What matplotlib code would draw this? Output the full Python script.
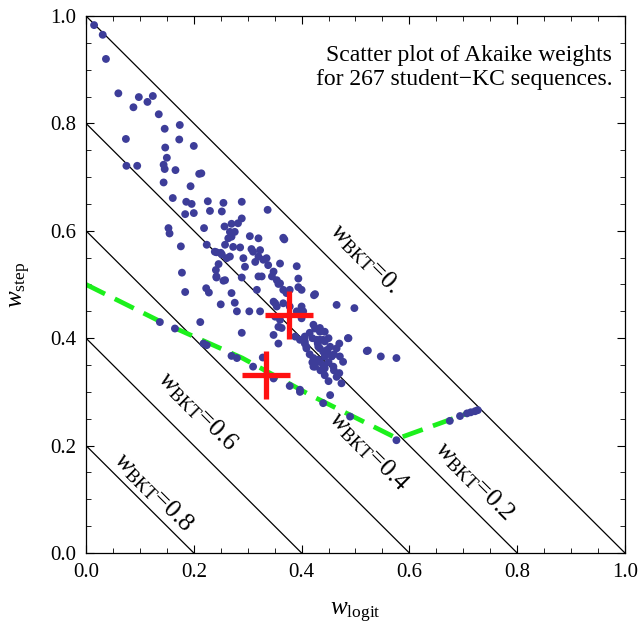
import matplotlib
matplotlib.use('Agg')
import matplotlib.pyplot as plt
from matplotlib.ticker import MultipleLocator, FormatStrFormatter
import numpy as np

plt.rcParams['font.family'] = ['Liberation Serif', 'DejaVu Serif']
plt.rcParams['mathtext.fontset'] = 'custom'
plt.rcParams['mathtext.rm'] = 'Liberation Serif'
plt.rcParams['mathtext.it'] = 'Liberation Serif:italic'

# Akaike weights per student-KC sequence (w_logit, w_step)
w_logit = [
    0.015, 0.031, 0.037, 0.060, 0.088, 0.098, 0.114, 0.124, 0.135, 0.074,
    0.146, 0.174, 0.173, 0.147, 0.200, 0.150, 0.075, 0.095, 0.144, 0.146,
    0.166, 0.210, 0.214, 0.144, 0.194, 0.161, 0.186, 0.196, 0.226, 0.255,
    0.289, 0.337, 0.184, 0.200, 0.230, 0.252, 0.153, 0.155, 0.219, 0.257,
    0.270, 0.282, 0.289, 0.276, 0.270, 0.267, 0.264, 0.258, 0.273, 0.286,
    0.239, 0.252, 0.261, 0.267, 0.304, 0.320, 0.366, 0.368, 0.176, 0.224,
    0.242, 0.250, 0.246, 0.241, 0.178, 0.242, 0.255, 0.184, 0.223, 0.228,
    0.250, 0.212, 0.310, 0.323, 0.314, 0.329, 0.295, 0.338, 0.348, 0.360,
    0.391, 0.258, 0.289, 0.320, 0.326, 0.345, 0.354, 0.360, 0.394, 0.317,
    0.366, 0.372, 0.400, 0.270, 0.425, 0.276, 0.348, 0.354, 0.280, 0.303,
    0.323, 0.351, 0.360, 0.357, 0.391, 0.400, 0.348, 0.357, 0.388, 0.397,
    0.406, 0.409, 0.289, 0.328, 0.465, 0.498, 0.486, 0.523, 0.547, 0.576,
    0.307, 0.320, 0.292, 0.335, 0.242, 0.357, 0.378, 0.394, 0.423, 0.351,
    0.366, 0.378, 0.400, 0.403, 0.363, 0.422, 0.434, 0.425, 0.434, 0.443,
    0.487, 0.406, 0.406, 0.434, 0.443, 0.453, 0.465, 0.409, 0.434, 0.440,
    0.521, 0.422, 0.443, 0.456, 0.471, 0.477, 0.425, 0.443, 0.459, 0.443,
    0.465, 0.474, 0.397, 0.453, 0.415, 0.420, 0.430, 0.450, 0.440, 0.450,
    0.460, 0.430, 0.415, 0.420, 0.450, 0.460, 0.470, 0.435, 0.448, 0.470,
    0.428, 0.440, 0.431, 0.447, 0.422, 0.434, 0.440, 0.422, 0.137, 0.165,
    0.218, 0.224, 0.270, 0.280, 0.310, 0.335, 0.348, 0.378, 0.397, 0.440,
    0.490, 0.576, 0.675, 0.694, 0.707, 0.714, 0.722, 0.727,
]
w_step = [
    0.983, 0.965, 0.920, 0.856, 0.830, 0.849, 0.840, 0.851, 0.817, 0.771,
    0.790, 0.797, 0.770, 0.755, 0.758, 0.736, 0.721, 0.721, 0.723, 0.715,
    0.713, 0.706, 0.707, 0.690, 0.683, 0.661, 0.654, 0.650, 0.655, 0.652,
    0.654, 0.639, 0.631, 0.633, 0.637, 0.636, 0.605, 0.595, 0.605, 0.608,
    0.613, 0.614, 0.623, 0.598, 0.589, 0.598, 0.586, 0.574, 0.570, 0.569,
    0.561, 0.556, 0.549, 0.552, 0.590, 0.586, 0.587, 0.584, 0.571, 0.574,
    0.560, 0.559, 0.538, 0.527, 0.522, 0.513, 0.507, 0.486, 0.493, 0.485,
    0.463, 0.430, 0.561, 0.564, 0.542, 0.546, 0.533, 0.536, 0.524, 0.539,
    0.534, 0.508, 0.513, 0.515, 0.515, 0.515, 0.508, 0.502, 0.511, 0.490,
    0.490, 0.484, 0.490, 0.484, 0.482, 0.466, 0.468, 0.459, 0.450, 0.450,
    0.450, 0.440, 0.434, 0.421, 0.450, 0.437, 0.406, 0.390, 0.403, 0.397,
    0.390, 0.381, 0.410, 0.364, 0.462, 0.456, 0.400, 0.377, 0.366, 0.363,
    0.566, 0.552, 0.549, 0.549, 0.515, 0.501, 0.490, 0.495, 0.480, 0.465,
    0.465, 0.459, 0.459, 0.450, 0.419, 0.425, 0.419, 0.418, 0.412, 0.412,
    0.400, 0.403, 0.394, 0.397, 0.394, 0.384, 0.381, 0.384, 0.381, 0.375,
    0.376, 0.363, 0.366, 0.366, 0.366, 0.356, 0.347, 0.344, 0.347, 0.331,
    0.328, 0.316, 0.300, 0.294, 0.410, 0.400, 0.390, 0.400, 0.350, 0.355,
    0.370, 0.360, 0.370, 0.355, 0.320, 0.340, 0.335, 0.340, 0.375, 0.390,
    0.397, 0.397, 0.384, 0.378, 0.356, 0.356, 0.341, 0.347, 0.430, 0.418,
    0.390, 0.387, 0.367, 0.363, 0.347, 0.331, 0.325, 0.311, 0.304, 0.279,
    0.254, 0.210, 0.246, 0.255, 0.260, 0.262, 0.264, 0.266,
]

# green dashed boundary
bound_x = [0.0, 0.14, 0.29, 0.42, 0.578, 0.73]
bound_y = [0.5, 0.43, 0.363, 0.292, 0.213, 0.268]

# red crosses (means)
cross_x = [0.377, 0.334]
cross_y = [0.443, 0.331]

# iso-lines w_logit + w_step = 1 - w_BKT
bkt_levels = [0.0, 0.2, 0.4, 0.6, 0.8]
bkt_names = ['0.', '0.2', '0.4', '0.6', '0.8']
bkt_label_x = [0.518, 0.720, 0.524, 0.208, 0.125]
bkt_label_y = [0.548, 0.133, 0.189, 0.263, 0.114]

fig = plt.figure(figsize=(6.39, 6.37), dpi=100)
ax = fig.add_axes([0.1346, 0.1319, 0.8434, 0.8430])

xs = np.array([0.0, 1.0])
for lv in bkt_levels:
    ax.plot(xs, (1 - lv) - xs, color='black', lw=0.9, zorder=1)

ax.plot(bound_x, bound_y, color='#1cf01c', lw=3.4, dashes=(4.5, 2.3), zorder=2)
ax.scatter(w_logit, w_step, s=32, color='#3d3d99', edgecolors='none', zorder=3)
ax.plot(cross_x, cross_y, ls='none', marker='+', ms=34, mew=3.8, color='#ff1111', zorder=4)

for nm, lx, ly in zip(bkt_names, bkt_label_x, bkt_label_y):
    ax.text(lx, ly, r'$w_{\mathrm{BKT}}$=' + nm, rotation=-45, ha='center', va='center',
            fontsize=18.5, zorder=5)

ax.text(0.976, 0.946, 'Scatter plot of Akaike weights\nfor 267 student\u2212KC sequences.',
        ha='right', va='top', fontsize=17, linespacing=1.2)

ax.set_xlim(0, 1)
ax.set_ylim(0, 1)
ax.xaxis.set_major_locator(MultipleLocator(0.2))
ax.yaxis.set_major_locator(MultipleLocator(0.2))
ax.xaxis.set_minor_locator(MultipleLocator(0.05))
ax.yaxis.set_minor_locator(MultipleLocator(0.05))
ax.xaxis.set_major_formatter(FormatStrFormatter('%.1f'))
ax.yaxis.set_major_formatter(FormatStrFormatter('%.1f'))
ax.tick_params(which='both', direction='in', top=True, right=True, labelsize=15)
ax.tick_params(which='major', length=6, width=0.8, pad=7)
ax.tick_params(which='minor', length=3.5, width=0.6)
for s in ax.spines.values():
    s.set_linewidth(0.9)

ax.set_xlabel(r'$w_{\mathrm{logit}}$', fontsize=18, labelpad=14)
ax.set_ylabel(r'$w_{\mathrm{step}}$', fontsize=18, labelpad=12)

fig.savefig('out.png', dpi=100)
